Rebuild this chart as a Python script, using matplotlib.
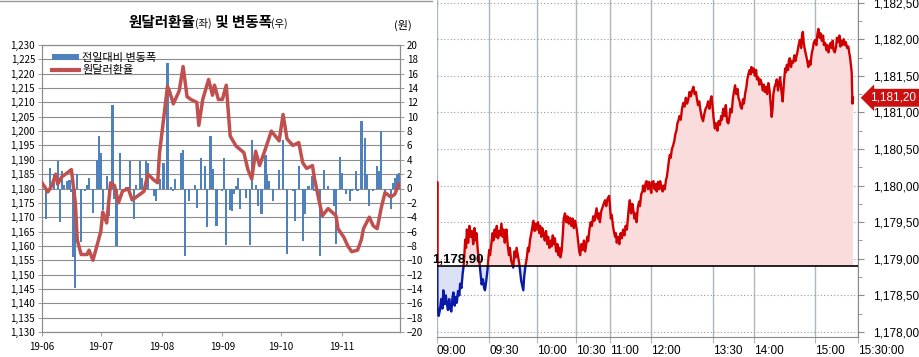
import numpy as np
import pandas as pd
import matplotlib
matplotlib.use("Agg")
import matplotlib.pyplot as plt
import matplotlib.dates as mdates
from matplotlib.patches import Rectangle, Patch
from matplotlib.lines import Line2D
from matplotlib.text import Annotation
from matplotlib.transforms import blended_transform_factory, ScaledTranslation

plt.rcParams['font.family'] = ['Noto Sans CJK KR', 'DejaVu Sans']

# ---------------- 왼쪽: 원달러환율(좌) 및 변동폭(우) ----------------
rate_dates = ["06-01", "06-04", "06-06", "06-08", "06-09", "06-11", "06-14", "06-16",
              "06-18", "06-19", "06-21", "06-24", "06-25", "06-27", "06-29", "07-01",
              "07-02", "07-04", "07-06", "07-08", "07-10", "07-12", "07-15", "07-17",
              "07-19", "07-23", "07-25", "07-28", "07-30", "07-31", "08-02", "08-04",
              "08-05", "08-07", "08-10", "08-12", "08-14", "08-16", "08-19", "08-20",
              "08-22", "08-25", "08-27", "08-28", "08-30", "09-01", "09-03", "09-05",
              "09-08", "09-12", "09-14", "09-16", "09-18", "09-20", "09-23", "09-26",
              "09-30", "10-02", "10-04", "10-07", "10-10", "10-12", "10-14", "10-17",
              "10-18", "10-22", "10-25", "10-29", "10-30", "11-02", "11-04", "11-06",
              "11-09", "11-11", "11-12", "11-15", "11-17", "11-19", "11-21", "11-23",
              "11-26", "11-28", "11-30"]
rate_values = [1182.0, 1178.8, 1181.0, 1185.0, 1181.5, 1184.0, 1185.5, 1186.6,
               1175.0, 1162.0, 1157.0, 1157.0, 1158.5, 1155.0, 1160.0, 1165.0,
               1171.8, 1168.0, 1182.0, 1181.0, 1175.0, 1179.0, 1180.0, 1176.0,
               1177.0, 1179.0, 1185.0, 1183.0, 1182.0, 1192.6, 1204.0, 1215.5,
               1214.0, 1209.5, 1214.0, 1222.5, 1212.0, 1211.0, 1210.0, 1202.0,
               1211.0, 1218.0, 1212.5, 1216.0, 1211.0, 1211.0, 1216.0, 1198.3,
               1194.8, 1192.5, 1186.7, 1183.3, 1193.0, 1188.0, 1193.8, 1200.0,
               1196.6, 1205.8, 1197.3, 1195.0, 1196.0, 1189.0, 1187.0, 1188.0,
               1183.5, 1170.5, 1173.0, 1170.5, 1166.0, 1163.0, 1160.0, 1158.0,
               1158.5, 1162.3, 1166.0, 1170.0, 1167.0, 1166.0, 1173.0, 1178.6,
               1177.0, 1178.0, 1181.5]

chg_dates = ["06-01", "06-03", "06-05", "06-07", "06-09", "06-10", "06-11", "06-12",
             "06-14", "06-15", "06-16", "06-17", "06-18", "06-19", "06-21", "06-23",
             "06-24", "06-25", "06-27", "06-29", "06-30", "07-01", "07-02", "07-04",
             "07-05", "07-07", "07-08", "07-09", "07-11", "07-12", "07-14", "07-16",
             "07-18", "07-19", "07-21", "07-22", "07-24", "07-25", "07-28", "07-29",
             "07-31", "08-02", "08-04", "08-06", "08-07", "08-08", "08-11", "08-12",
             "08-13", "08-15", "08-18", "08-19", "08-21", "08-23", "08-24", "08-26",
             "08-27", "08-29", "09-01", "09-02", "09-03", "09-05", "09-06", "09-07",
             "09-08", "09-09", "09-10", "09-13", "09-15", "09-16", "09-18", "09-19",
             "09-21", "09-23", "09-24", "09-25", "09-27", "09-30", "10-02", "10-04",
             "10-07", "10-08", "10-10", "10-12", "10-13", "10-15", "10-17", "10-18",
             "10-21", "10-23", "10-25", "10-28", "10-29", "10-31", "11-01", "11-03",
             "11-05", "11-06", "11-08", "11-09", "11-11", "11-13", "11-14", "11-15",
             "11-17", "11-19", "11-20", "11-21", "11-23", "11-26", "11-27", "11-28",
             "11-29", "11-30"]
chg_values = [-8.8, -4.3, 2.8, 2.0, 3.8, -4.7, 2.4, 0.5,
              1.0, 1.2, -0.5, -9.5, -13.9, 2.0, -7.5, -0.3,
              0.5, 1.5, -3.4, 4.0, 7.3, 5.0, -3.0, 1.8,
              -3.8, 11.7, -1.4, -8.0, 5.0, -1.0, 0.2, 3.8,
              -4.3, 0.5, 3.8, 1.5, 3.8, 3.5, -1.1, -1.7,
              1.3, 3.5, 17.5, 0.2, -0.3, 1.3, 5.0, 5.3,
              -9.4, -1.8, 0.5, -2.7, 4.2, 3.1, -5.4, 7.3,
              2.7, -5.2, -0.3, 4.2, -7.9, -3.0, -3.2, -0.8,
              0.3, 1.5, -2.8, -1.3, -7.9, 6.7, 0.5, -2.4,
              -3.5, 4.7, 2.0, 1.0, -1.8, 2.6, 6.7, -9.1,
              -0.3, -4.5, 3.1, -7.3, -3.5, 0.3, 1.8, -0.3,
              -9.4, 2.6, 0.3, -2.4, -7.8, 4.4, 2.2, -0.8,
              -1.7, -0.3, 2.4, -0.3, 9.4, 7.0, 2.0, -2.4,
              -0.3, 3.2, 2.5, 8.0, -0.3, -2.8, 0.7, 1.5,
              2.0, 2.2]

rate_ticks = list(range(1130, 1231, 5))
chg_ticks = list(range(-20, 21, 2))

# ---------------- 오른쪽: 장중 환율 ----------------
prev_close = 1178.90
last_price = 1181.20
time_labels = ["09:00", "09:30", "10:00", "10:30", "11:00", "12:00",
               "13:30", "14:00", "15:00", "15:30:00"]
time_ticks = [0, 124, 237, 330, 411, 508, 656, 753, 898, 1000]
price_ticks = [1178.0, 1178.5, 1179.0, 1179.5, 1180.0, 1180.5, 1181.0, 1181.5, 1182.0, 1182.5]

intraday_seq = [0, 0.5, 1, 4, 7, 10, 13, 15, 18, 21, 23, 26, 29, 31, 34, 37, 39, 42, 45, 47,
                50, 53, 55, 58, 61, 63, 65, 67, 69, 71, 74, 77, 80, 83, 86, 89, 92, 94, 97, 100,
                102, 104, 106, 109, 112, 114, 117, 120, 122, 124, 126, 129, 132, 134, 137, 140,
                142, 145, 148, 150, 153, 156, 158, 161, 163, 165, 168, 171, 173, 176, 179, 181,
                184, 187, 189, 192, 195, 197, 200, 203, 205, 207, 210, 213, 216, 218, 221, 224,
                227, 229, 232, 235, 237, 240, 243, 245, 248, 250, 253, 256, 259, 262, 264, 267,
                270, 272, 275, 278, 280, 283, 286, 288, 291, 293, 296, 299, 301, 304, 307, 310,
                313, 316, 319, 322, 325, 328, 332, 335, 338, 340, 343, 346, 349, 352, 355, 357,
                359, 362, 365, 368, 371, 374, 377, 379, 382, 385, 387, 390, 393, 396, 399, 402,
                405, 409, 411, 413, 415, 418, 420, 423, 425, 427, 430, 433, 436, 439, 442, 445,
                448, 451, 454, 456, 458, 461, 464, 466, 469, 472, 474, 477, 480, 482, 485, 488,
                490, 493, 496, 498, 501, 504, 506, 509, 511, 514, 517, 520, 522, 525, 528, 530,
                533, 536, 538, 541, 544, 546, 549, 551, 553, 555, 558, 561, 564, 566, 569, 571,
                573, 576, 579, 582, 585, 588, 591, 594, 597, 600, 603, 606, 609, 612, 615, 617,
                620, 623, 626, 629, 632, 635, 638, 641, 644, 647, 650, 652, 655, 657, 660, 663,
                666, 669, 672, 675, 677, 680, 683, 686, 689, 692, 695, 697, 700, 703, 706, 708,
                711, 714, 716, 719, 721, 724, 727, 729, 732, 735, 737, 740, 743, 745, 747, 750,
                752, 755, 758, 760, 763, 766, 768, 771, 774, 776, 779, 782, 784, 787, 790, 792,
                795, 797, 799, 802, 805, 807, 810, 813, 815, 818, 821, 824, 827, 829, 831, 834,
                836, 838, 841, 843, 846, 849, 851, 854, 857, 859, 862, 865, 867, 869, 871, 874,
                876, 879, 882, 885, 887, 890, 893, 895, 898, 901, 904, 906, 909, 911, 914, 917,
                919, 922, 925, 927, 930, 932, 935, 937, 940, 942, 945, 948, 950, 953, 956, 958,
                961, 963, 966, 969, 971, 974, 977, 979, 981, 983, 985, 986, 987, 988]
intraday_price = [1178.90, 1180.05, 1178.35, 1178.22, 1178.30, 1178.45, 1178.32, 1178.57, 1178.38, 1178.50,
                  1178.40, 1178.30, 1178.45, 1178.33, 1178.28, 1178.48, 1178.54, 1178.36, 1178.48, 1178.40,
                  1178.56, 1178.50, 1178.66, 1178.60, 1178.80, 1178.89, 1179.05, 1179.26, 1179.15, 1179.40,
                  1179.22, 1179.45, 1179.30, 1179.38, 1179.20, 1179.42, 1179.25, 1179.35, 1179.10, 1179.00,
                  1178.88, 1178.75, 1178.65, 1178.72, 1178.60, 1178.57, 1178.70, 1178.85, 1179.00, 1179.12,
                  1179.05, 1179.20, 1179.35, 1179.25, 1179.40, 1179.30, 1179.45, 1179.28, 1179.38, 1179.32,
                  1179.48, 1179.30, 1179.40, 1179.22, 1179.35, 1179.40, 1179.18, 1179.05, 1179.15, 1178.98,
                  1178.92, 1178.88, 1179.10, 1179.02, 1179.15, 1179.05, 1178.95, 1178.85, 1178.70, 1178.62,
                  1178.57, 1178.75, 1178.90, 1179.00, 1179.15, 1179.10, 1179.26, 1179.35, 1179.45, 1179.52,
                  1179.38, 1179.48, 1179.40, 1179.50, 1179.35, 1179.45, 1179.30, 1179.42, 1179.35, 1179.25,
                  1179.38, 1179.20, 1179.30, 1179.15, 1179.25, 1179.17, 1179.32, 1179.20, 1179.28, 1179.10,
                  1179.20, 1179.05, 1179.15, 1179.02, 1179.10, 1179.35, 1179.55, 1179.62, 1179.50, 1179.58,
                  1179.48, 1179.56, 1179.45, 1179.55, 1179.42, 1179.52, 1179.40, 1179.25, 1179.10, 1179.05,
                  1179.20, 1179.12, 1179.25, 1179.10, 1179.22, 1179.30, 1179.24, 1179.40, 1179.50, 1179.45,
                  1179.58, 1179.52, 1179.62, 1179.69, 1179.55, 1179.62, 1179.50, 1179.65, 1179.70, 1179.75,
                  1179.80, 1179.72, 1179.82, 1179.86, 1179.70, 1179.55, 1179.60, 1179.45, 1179.38, 1179.30,
                  1179.35, 1179.22, 1179.30, 1179.20, 1179.35, 1179.28, 1179.40, 1179.32, 1179.45, 1179.40,
                  1179.60, 1179.72, 1179.80, 1179.62, 1179.75, 1179.68, 1179.55, 1179.62, 1179.50, 1179.70,
                  1179.78, 1179.72, 1179.88, 1179.92, 1180.00, 1179.92, 1180.05, 1180.06, 1179.95, 1180.05,
                  1179.98, 1179.90, 1180.05, 1180.06, 1179.95, 1180.02, 1179.92, 1180.05, 1179.95, 1180.06,
                  1179.98, 1179.92, 1180.00, 1179.95, 1180.08, 1180.12, 1180.25, 1180.35, 1180.42, 1180.38,
                  1180.50, 1180.55, 1180.62, 1180.70, 1180.76, 1180.85, 1180.88, 1180.95, 1180.90, 1181.05,
                  1181.13, 1181.08, 1181.20, 1181.12, 1181.18, 1181.28, 1181.22, 1181.30, 1181.35, 1181.25,
                  1181.28, 1181.20, 1181.10, 1181.15, 1181.02, 1180.93, 1180.88, 1180.98, 1181.05, 1181.08,
                  1181.15, 1181.05, 1181.18, 1181.22, 1181.05, 1180.92, 1180.78, 1180.85, 1180.75, 1180.88,
                  1180.83, 1180.95, 1180.90, 1181.05, 1180.95, 1181.10, 1180.88, 1180.85, 1180.95, 1181.05,
                  1181.00, 1181.20, 1181.30, 1181.37, 1181.25, 1181.32, 1181.20, 1181.15, 1181.08, 1181.05,
                  1181.18, 1181.12, 1181.26, 1181.35, 1181.45, 1181.53, 1181.58, 1181.52, 1181.62, 1181.55,
                  1181.60, 1181.50, 1181.58, 1181.45, 1181.48, 1181.38, 1181.45, 1181.40, 1181.30, 1181.38,
                  1181.28, 1181.35, 1181.25, 1181.40, 1181.30, 1181.15, 1180.94, 1181.05, 1181.25, 1181.35,
                  1181.40, 1181.45, 1181.30, 1181.42, 1181.48, 1181.30, 1181.15, 1181.40, 1181.60, 1181.55,
                  1181.65, 1181.58, 1181.72, 1181.74, 1181.62, 1181.70, 1181.68, 1181.78, 1181.70, 1181.77,
                  1181.85, 1181.92, 1181.99, 1181.88, 1182.05, 1182.10, 1181.95, 1181.85, 1181.80, 1181.72,
                  1181.62, 1181.70, 1181.65, 1181.80, 1181.88, 1181.95, 1181.99, 1181.92, 1182.08, 1182.14,
                  1182.02, 1182.08, 1181.98, 1182.05, 1181.92, 1181.95, 1181.85, 1181.92, 1181.82, 1181.90,
                  1181.95, 1181.88, 1181.98, 1181.85, 1181.82, 1181.90, 1182.02, 1181.96, 1182.05, 1181.90,
                  1181.98, 1181.92, 1182.00, 1181.92, 1181.96, 1181.88, 1181.90, 1181.82, 1181.76, 1181.65,
                  1181.55, 1181.30, 1181.12, 1181.20]

# ---------------- 그리기 ----------------
fig = plt.figure(figsize=(9.2, 3.57), dpi=100)
W, H = 920, 357

bar_color = '#4F81BD'
line_color = '#C0504D'
grid_gray = '#8C8C8C'

# 왼쪽 차트: ax1 = 변동폭(우축), ax2 = 환율(좌축)
ax1 = fig.add_axes([42 / W, 1 - 332 / H, 358 / W, 287 / H])
ax2 = ax1.twinx()

chg_x = pd.to_datetime(["2019-" + d for d in chg_dates])
rate_x = pd.to_datetime(["2019-" + d for d in rate_dates])

ax1.bar(chg_x, chg_values, width=1.1, color=bar_color, linewidth=0, zorder=2)
ax2.plot(rate_x, rate_values, color=line_color, linewidth=2.5, solid_joinstyle='round', zorder=3)

ax1.set_ylim(-20, 20)
ax1.set_yticks(chg_ticks)
ax2.set_ylim(1130, 1230)
ax2.set_yticks(rate_ticks)
ax2.set_yticklabels([f"{v:,}" for v in rate_ticks])

ax1.yaxis.tick_right()
ax2.yaxis.tick_left()
ax1.set_axisbelow(True)
ax1.grid(axis='y', color=grid_gray, linewidth=0.8)

x0 = mdates.date2num(pd.Timestamp("2019-06-01"))
ax1.set_xlim(x0, x0 + 182.65)
ax1.xaxis.set_major_locator(mdates.MonthLocator())
ax1.xaxis.set_major_formatter(mdates.DateFormatter('%y-%m'))

for a in (ax1, ax2):
    for s in a.spines.values():
        s.set_color(grid_gray)
        s.set_linewidth(0.8)
    a.tick_params(labelsize=7, length=3, width=0.6, color=grid_gray, pad=2)
ax1.tick_params(axis='x', pad=4)

handles = [Patch(facecolor=bar_color, edgecolor='none'),
           Line2D([], [], color=line_color, linewidth=3)]
ax2.legend(handles, ["전일대비 변동폭", "원달러환율"], loc='upper left',
           bbox_to_anchor=(0.01, 0.995), frameon=False, fontsize=8,
           handlelength=2.4, handleheight=0.5, handletextpad=0.3,
           labelspacing=0.2, borderaxespad=0.2)

# 제목
y_base = 1 - 27 / H
t = fig.text(128 / W, y_base, "원달러환율", fontsize=10.5, fontweight='bold', va='baseline')
prev = t
for txt, fs, fw in [("(좌)", 7.5, 'normal'), (" 및 변동폭", 10.5, 'bold'), ("(우)", 7.5, 'normal')]:
    a = Annotation(txt, xy=(1, y_base), xycoords=(prev, 'figure fraction'),
                   fontsize=fs, fontweight=fw, va='baseline', ha='left')
    fig.add_artist(a)
    prev = a
fig.text(403 / W, 1 - 25 / H, "(원)", fontsize=8, ha='center', va='center')

# 상단 테두리
fig.add_artist(Line2D([0, 432 / W], [1 - 0.5 / H, 1 - 0.5 / H], color='#9A9A9A',
                      linewidth=1, transform=fig.transFigure))

# 오른쪽 차트
ax3 = fig.add_axes([437 / W, 1 - 337 / H, 421 / W, 337 / H])
ax3.set_xlim(0, 1000)
ax3.set_ylim(1178 - 5 / 73.2, 1178 + 332 / 73.2)

seq = np.array(intraday_seq)
px = np.array(intraday_price)
ax3.fill_between(seq, px, prev_close, where=px >= prev_close, interpolate=True,
                 color='#FBDCDC', linewidth=0, zorder=1)
ax3.fill_between(seq, px, prev_close, where=px <= prev_close, interpolate=True,
                 color='#DDE1F6', linewidth=0, zorder=1)

ymin, ymax = ax3.get_ylim()
up_clip = Rectangle((0, prev_close), 1000, ymax - prev_close, transform=ax3.transData)
dn_clip = Rectangle((0, ymin), 1000, prev_close - ymin, transform=ax3.transData)
l_up, = ax3.plot(seq, px, color='#D00000', linewidth=1.7, zorder=3)
l_up.set_clip_path(up_clip)
l_dn, = ax3.plot(seq, px, color='#0A1AA8', linewidth=1.7, zorder=3)
l_dn.set_clip_path(dn_clip)

ax3.axhline(prev_close, color='black', linewidth=1.2, zorder=4)

ax3.set_yticks(price_ticks)
ax3.set_yticks(np.arange(1178.25, 1182.5, 0.5), minor=True)
ax3.set_yticklabels([f"{v:,.2f}".replace('.', ',') for v in price_ticks],
                    fontfamily='Liberation Sans', fontsize=8.5)
ax3.yaxis.tick_right()
ax3.set_xticks(time_ticks)
ax3.set_xticklabels(time_labels, ha='left', fontfamily='Liberation Sans', fontsize=8.5)
last_lbl = ax3.get_xticklabels()[-1]
last_lbl.set_transform(last_lbl.get_transform() + ScaledTranslation(-5 / 100, 0, fig.dpi_scale_trans))

ax3.grid(axis='y', which='major', color='#9A9A9A', linestyle=(0, (1, 2)), linewidth=0.8)
ax3.grid(axis='x', color='#AEB6BE', linewidth=1.0)
ax3.set_axisbelow(True)
for side in ('left', 'top'):
    ax3.spines[side].set_visible(False)
for side in ('right', 'bottom'):
    ax3.spines[side].set_color('#8A8A8A')
ax3.tick_params(axis='y', which='major', length=4, color='#8A8A8A', pad=7)
ax3.tick_params(axis='y', which='minor', length=3, color='#8A8A8A')
ax3.tick_params(axis='x', length=4, color='#AEB6BE', pad=2)

trans = blended_transform_factory(ax3.transAxes, ax3.transData)
ax3.text(-0.012, prev_close, f"{prev_close:,.2f}".replace('.', ','), transform=trans,
         fontfamily='Liberation Sans', fontweight='bold', fontsize=9.5,
         va='bottom', ha='left', zorder=6, clip_on=False)
ax3.annotate(f"{last_price:,.2f}".replace('.', ','), xy=(1, last_price), xycoords=trans,
             xytext=(9, 0), textcoords='offset points', va='center', ha='left',
             color='white', fontfamily='Liberation Sans', fontsize=8.5,
             bbox=dict(boxstyle='larrow,pad=0.25', fc='#CC1010', ec='none'),
             annotation_clip=False, zorder=7)

fig.savefig("out.png", dpi=100)
